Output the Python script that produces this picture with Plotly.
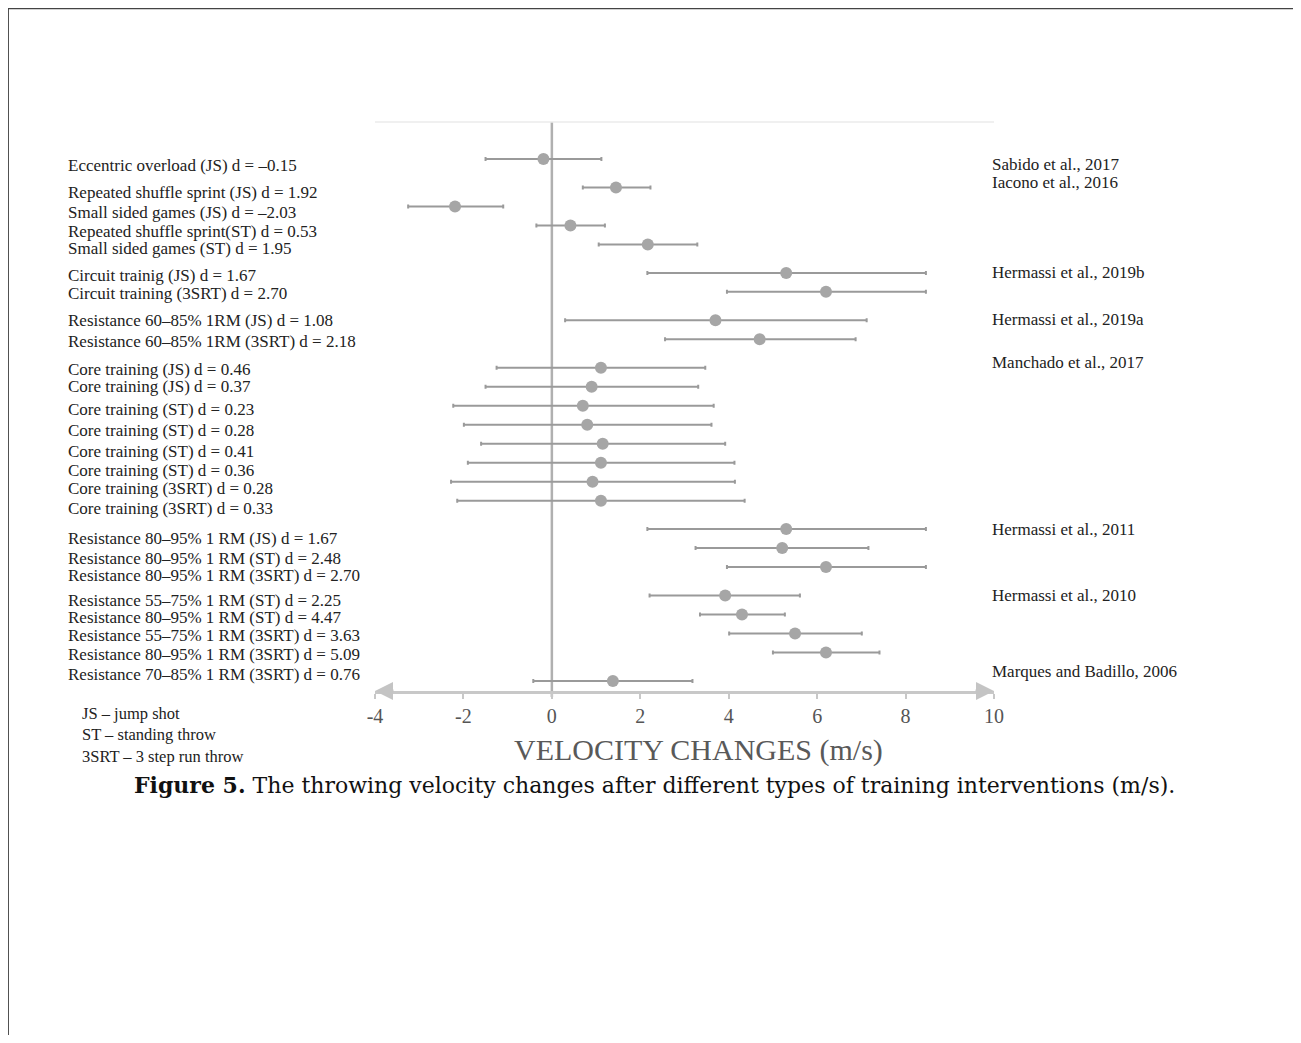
import plotly.graph_objects as go

# ---------------- data ----------------
labels = [
    "Eccentric overload (JS) d = –0.15",
    "Repeated shuffle sprint (JS) d = 1.92",
    "Small sided games (JS) d = –2.03",
    "Repeated shuffle sprint(ST) d = 0.53",
    "Small sided games (ST) d = 1.95",
    "Circuit trainig (JS) d = 1.67",
    "Circuit training (3SRT) d = 2.70",
    "Resistance 60–85% 1RM (JS) d = 1.08",
    "Resistance 60–85% 1RM (3SRT) d = 2.18",
    "Core training (JS) d = 0.46",
    "Core training (JS) d = 0.37",
    "Core training (ST) d = 0.23",
    "Core training (ST) d = 0.28",
    "Core training (ST) d = 0.41",
    "Core training (ST) d = 0.36",
    "Core training (3SRT) d = 0.28",
    "Core training (3SRT) d = 0.33",
    "Resistance 80–95% 1 RM (JS) d = 1.67",
    "Resistance 80–95% 1 RM (ST) d = 2.48",
    "Resistance 80–95% 1 RM (3SRT) d = 2.70",
    "Resistance 55–75% 1 RM (ST) d = 2.25",
    "Resistance 80–95% 1 RM (ST) d = 4.47",
    "Resistance 55–75% 1 RM (3SRT) d = 3.63",
    "Resistance 80–95% 1 RM (3SRT) d = 5.09",
    "Resistance 70–85% 1 RM (3SRT) d = 0.76",
]
study_index = [0, 1, 1, 1, 1, 2, 2, 3, 3, 4, 4, 4, 4, 4, 4, 4, 4, 5, 5, 5, 6, 6, 6, 6, 7]
studies = [
    "Sabido et al., 2017",
    "Iacono et al., 2016",
    "Hermassi et al., 2019b",
    "Hermassi et al., 2019a",
    "Manchado et al., 2017",
    "Hermassi et al., 2011",
    "Hermassi et al., 2010",
    "Marques and Badillo, 2006",
]
mean_change = [-0.19, 1.45, -2.19, 0.42, 2.17, 5.30, 6.20, 3.70, 4.70, 1.11, 0.90, 0.70, 0.80,
               1.15, 1.11, 0.92, 1.11, 5.30, 5.21, 6.20, 3.92, 4.30, 5.50, 6.20, 1.38]
ci_low = [-1.50, 0.70, -3.25, -0.35, 1.06, 2.16, 3.96, 0.30, 2.56, -1.25, -1.50, -2.23, -1.99,
          -1.60, -1.90, -2.28, -2.14, 2.16, 3.25, 3.96, 2.21, 3.35, 4.01, 5.00, -0.42]
ci_high = [1.12, 2.23, -1.10, 1.20, 3.29, 8.46, 8.46, 7.12, 6.87, 3.47, 3.31, 3.66, 3.61,
           3.92, 4.13, 4.14, 4.36, 8.46, 7.16, 8.46, 5.61, 5.27, 7.01, 7.41, 3.18]
tick_values = [-4, -2, 0, 2, 4, 6, 8, 10]
tick_labels = ["-4", "-2", "0", "2", "4", "6", "8", "10"]
abbreviations = ["JS – jump shot", "ST – standing throw", "3SRT – 3 step run throw"]
axis_title = "VELOCITY CHANGES (m/s)"
caption_bold = "Figure 5."
caption_text = " The throwing velocity changes after different types of training interventions (m/s)."

# ---------------- layout helpers ----------------
GROUP_GAP = 1.5
row_pos = []
for i, s in enumerate(study_index):
    if i == 0:
        row_pos.append(0.0)
    else:
        row_pos.append(row_pos[-1] + (GROUP_GAP if s != study_index[i - 1] else 1.0))

label_shift = [-6, -5, -6, -6, -4, -3, -2, 0, -2, -2, 0, -4, -6, -8, -8, -7, -8, -9, -10, -8, -5, -3, -2, -2, 6]
study_shift = [-5, 5, 0, 1, 5, 0, 0, 9]

SERIF = "Liberation Serif, Times New Roman, serif"
CAPTION_FONT = "DejaVu Serif, Liberation Serif, serif"

err_plus = [h - m for h, m in zip(ci_high, mean_change)]
err_minus = [m - l for m, l in zip(mean_change, ci_low)]

fig = go.Figure()
fig.add_trace(go.Scatter(
    x=mean_change, y=row_pos, mode="markers",
    marker=dict(size=12, color="#a6a6a6"),
    error_x=dict(type="data", symmetric=False, array=err_plus, arrayminus=err_minus,
                 color="#9a9a9a", thickness=2, width=2),
    showlegend=False, hoverinfo="x",
))

annotations = []
for lab, y, sh in zip(labels, row_pos, label_shift):
    annotations.append(dict(x=-0.499, xref="paper", y=y, yref="y", yshift=sh, text=lab,
                            xanchor="left", yanchor="middle", showarrow=False,
                            font=dict(family=SERIF, size=17, color="#222222")))
for k, name in enumerate(studies):
    first = study_index.index(k)
    annotations.append(dict(x=0.994, xref="paper", y=row_pos[first], yref="y", yshift=study_shift[k],
                            text=name, xanchor="left", yanchor="middle", showarrow=False,
                            font=dict(family=SERIF, size=17, color="#222222")))
annotations.append(dict(x=-0.4766, xref="paper", y=-0.0773, yref="paper", text="<br>".join(abbreviations),
                        xanchor="left", yanchor="middle", align="left", showarrow=False,
                        font=dict(family=SERIF, size=16.5, color="#222222")))
annotations.append(dict(x=0.522, xref="paper", y=-0.1037, yref="paper", text=axis_title,
                        xanchor="center", yanchor="middle", showarrow=False,
                        font=dict(family=SERIF, size=30, color="#595959")))
annotations.append(dict(x=-0.3925, xref="paper", y=-0.1652, yref="paper",
                        text="<b>" + caption_bold + "</b>" + caption_text,
                        xanchor="left", yanchor="middle", showarrow=False,
                        font=dict(family=CAPTION_FONT, size=22, color="#111111")))
# arrowheads on the axis
annotations.append(dict(x=10, xref="x", y=0, yref="paper", ax=-20, ay=0, text="",
                        showarrow=True, arrowhead=2, arrowsize=1.2, arrowwidth=3,
                        arrowcolor="#c4c4c4", standoff=0))
annotations.append(dict(x=-4, xref="x", y=0, yref="paper", ax=20, ay=0, text="",
                        showarrow=True, arrowhead=2, arrowsize=1.2, arrowwidth=3,
                        arrowcolor="#c4c4c4", standoff=0))

shapes = [
    dict(type="line", xref="x", yref="paper", x0=0, x1=0, y0=-0.0105, y1=1,
         line=dict(color="#b0b0b0", width=2.5), layer="below"),
    dict(type="line", xref="x", yref="paper", x0=-4.23, x1=10.25, y0=1, y1=1,
         line=dict(color="#ebebeb", width=1.5), layer="below"),
    # page frame
    dict(type="line", xref="paper", yref="paper", x0=-0.593, x1=1.6, y0=1.2, y1=1.2,
         line=dict(color="#444444", width=2)),
    dict(type="line", xref="paper", yref="paper", x0=-0.593, x1=-0.593, y0=1.2, y1=-0.7,
         line=dict(color="#444444", width=2)),
]

fig.update_layout(
    width=1285, height=1027,
    margin=dict(l=367, r=299, t=114, b=344),
    paper_bgcolor="white", plot_bgcolor="white",
    xaxis=dict(range=[-4, 10], tickvals=tick_values, ticktext=tick_labels,
               showgrid=False, zeroline=False, showline=True, linecolor="#c8c8c8", linewidth=3,
               ticks="outside", ticklen=5, tickwidth=2, tickcolor="#c8c8c8",
               ticklabelstandoff=0,
               tickfont=dict(family=SERIF, size=20, color="#555555")),
    yaxis=dict(range=[28.03, -1.95], visible=False, showgrid=False, zeroline=False),
    annotations=annotations, shapes=shapes,
)

fig.write_html("out.html")
